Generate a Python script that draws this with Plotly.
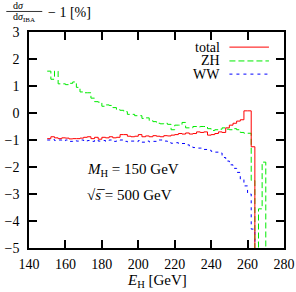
import plotly.graph_objects as go

# bin left edges (GeV), 2 GeV bins
E_total = list(range(150, 266, 2))
total = [-0.95, -0.88, -0.92, -0.95, -0.92, -0.93, -0.96, -0.95, -0.95, -0.93,
         -0.90, -0.88, -0.95, -0.90, -0.97, -0.90, -0.92, -0.88, -0.92, -0.90,
         -0.80, -0.80, -0.86, -0.88, -0.86, -0.80, -0.88, -0.85, -0.88, -0.84,
         -0.86, -0.88, -0.84, -0.85, -0.82, -0.80, -0.76, -0.78, -0.74, -0.78,
         -0.76, -0.70, -0.72, -0.70, -0.82, -0.80, -0.76, -0.70, -0.72, -0.55,
         -0.45, -0.38, -0.30, -0.25, 0.08, 0.08, -1.25, -6.0]

E_zh = list(range(150, 272, 2))
zh = [1.55, 1.25, 1.55, 1.08, 1.08, 1.05, 1.10, 1.15, 0.95, 0.78,
      0.75, 0.75, 0.55, 0.42, 0.40, 0.25, 0.30, 0.28, 0.20, 0.12,
      0.10, 0.05, -0.05, -0.05, -0.10, -0.10, -0.20, -0.18, -0.28, -0.32,
      -0.38, -0.40, -0.38, -0.42, -0.62, -0.45, -0.45, -0.35, -0.55, -0.55,
      -0.50, -0.52, -0.50, -0.50, -0.58, -0.65, -0.62, -0.60, -0.55, -0.60,
      -0.62, -0.58, -0.62, -0.72, -0.75, -0.75, -2.50, -6.0, -3.55, -1.82, -6.0]

E_ww = list(range(150, 268, 2))
ww = [-1.00, -0.98, -1.02, -1.00, -1.03, -1.00, -1.05, -1.02, -1.04, -1.00,
      -1.05, -1.02, -1.05, -1.00, -1.04, -1.02, -1.05, -1.00, -1.05, -1.03,
      -1.00, -1.05, -1.07, -1.04, -1.06, -1.02, -1.08, -1.04, -1.07, -1.05,
      -1.00, -1.00, -1.04, -1.10, -1.12, -1.10, -1.14, -1.13, -1.18, -1.25,
      -1.28, -1.30, -1.30, -1.35, -1.38, -1.42, -1.45, -1.48, -1.65, -1.78,
      -1.92, -2.05, -2.20, -2.45, -2.70, -3.00, -4.30, -4.80, -6.0]

x_ticks = [140, 160, 180, 200, 220, 240, 260, 280]
y_ticks = [-5, -4, -3, -2, -1, 0, 1, 2, 3]

FONT = "Liberation Serif"
RED, GREEN, BLUE = "rgb(255,0,0)", "rgb(0,235,0)", "rgb(0,0,255)"

fig = go.Figure()
fig.add_trace(go.Scatter(x=E_ww, y=ww, mode="lines", line=dict(shape="hv", color=BLUE, width=1, dash="3px,4px")))
fig.add_trace(go.Scatter(x=E_zh, y=zh, mode="lines", line=dict(shape="hv", color=GREEN, width=1, dash="6px,3px")))
fig.add_trace(go.Scatter(x=E_total, y=total, mode="lines", line=dict(shape="hv", color=RED, width=1)))

axis_common = dict(showline=True, linecolor="black", linewidth=1.5, mirror="ticks",
                   ticks="inside", ticklen=8, tickwidth=1.5, tickcolor="black",
                   showgrid=False, zeroline=False, automargin=False,
                   tickfont=dict(family=FONT, size=14, color="black"))
fig.update_xaxes(range=[140, 280], tickvals=x_ticks, ticklabelstandoff=2, **axis_common)
fig.update_yaxes(range=[-5, 3], tickvals=y_ticks, ticklabelstandoff=5, **axis_common)

ann = []
txt = dict(family=FONT, color="black")
ann.append(dict(text="<i>E</i><sub>H</sub> [GeV]", xref="paper", yref="paper", x=0.5, y=-0.155,
                xanchor="center", yanchor="middle", showarrow=False, font=dict(size=15, **txt)))
ann.append(dict(text="d<i>σ</i>", xref="paper", yref="paper", x=-0.042, y=1.122,
                xanchor="center", yanchor="middle", showarrow=False, font=dict(size=10, **txt)))
ann.append(dict(text="d<i>σ</i><sub>IBA</sub>", xref="paper", yref="paper", x=-0.02, y=1.066,
                xanchor="center", yanchor="middle", showarrow=False, font=dict(size=10, **txt)))
ann.append(dict(text="− 1 [%]", xref="paper", yref="paper", x=0.068, y=1.09,
                xanchor="left", yanchor="middle", showarrow=False, font=dict(size=14, **txt)))
ann.append(dict(text="<i>M</i><sub>H</sub> = 150 GeV", xref="paper", yref="paper", x=0.22, y=0.36,
                xanchor="left", yanchor="middle", showarrow=False, font=dict(size=15, **txt)))
ann.append(dict(text="√<i>s</i>\u0305 = 500 GeV", xref="paper", yref="paper", x=0.22, y=0.245,
                xanchor="left", yanchor="middle", showarrow=False, font=dict(size=15, **txt)))
for name, yy in [("total", 0.930), ("ZH", 0.866), ("WW", 0.805)]:
    ann.append(dict(text=name, xref="paper", yref="paper", x=0.756, y=yy,
                    xanchor="right", yanchor="middle", showarrow=False, font=dict(size=14, **txt)))

shapes = [
    dict(type="line", xref="paper", yref="paper", x0=-0.089, x1=0.052, y0=1.095, y1=1.095,
         line=dict(color="black", width=0.8)),
    dict(type="line", xref="paper", yref="paper", x0=0.786, x1=0.941, y0=0.930, y1=0.930,
         line=dict(color=RED, width=1)),
    dict(type="line", xref="paper", yref="paper", x0=0.786, x1=0.941, y0=0.866, y1=0.866,
         line=dict(color=GREEN, width=1, dash="6px,3px")),
    dict(type="line", xref="paper", yref="paper", x0=0.786, x1=0.941, y0=0.805, y1=0.805,
         line=dict(color=BLUE, width=1, dash="3px,4px")),
]

fig.update_layout(width=296, height=292, margin=dict(l=29, r=12, t=32, b=44),
                  plot_bgcolor="white", paper_bgcolor="white", showlegend=False,
                  annotations=ann, shapes=shapes)
fig.write_html("out.html", config={"displayModeBar": False},
               post_script="document.body.style.margin='0';document.body.style.overflow='hidden';")
